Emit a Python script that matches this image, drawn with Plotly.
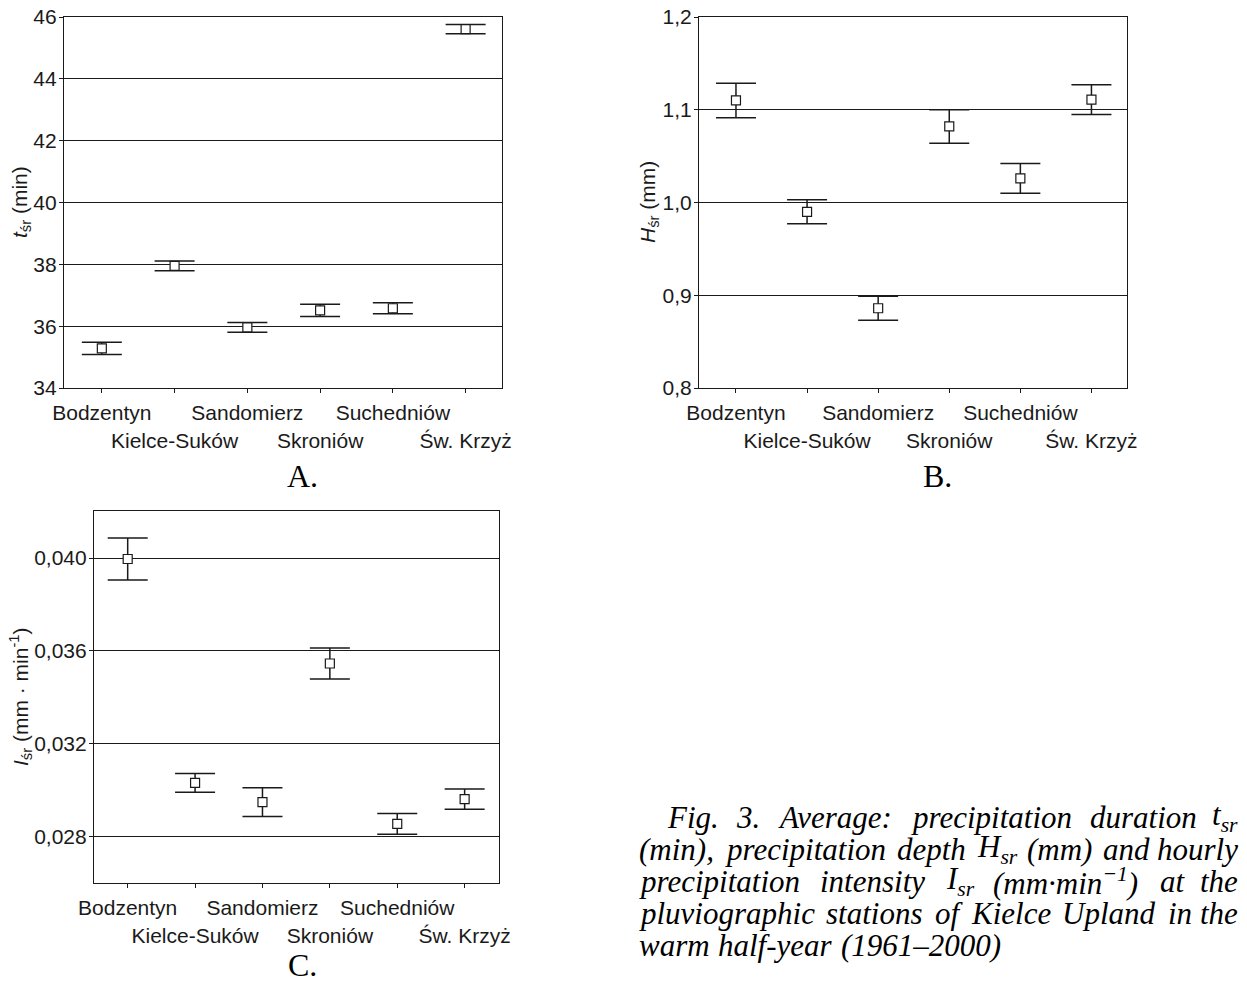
import re
import plotly.graph_objects as go

# ---------------- data ----------------
stations = ["Bodzentyn", "Kielce-Suków", "Sandomierz", "Skroniów", "Suchedniów", "Św. Krzyż"]
t_mean = [35.28, 37.95, 35.96, 36.51, 36.58, 45.61]
t_err = [0.20, 0.16, 0.16, 0.20, 0.18, 0.15]
H_mean = [1.110, 0.990, 0.886, 1.082, 1.026, 1.111]
H_err = [0.0185, 0.013, 0.013, 0.018, 0.016, 0.016]
I_mean = [0.03996, 0.0303, 0.02947, 0.03545, 0.02853, 0.0296]
I_err = [0.00091, 0.0004, 0.00062, 0.00067, 0.00045, 0.00044]

t_ticks = [34, 36, 38, 40, 42, 44, 46]
H_ticks = [0.8, 0.9, 1.0, 1.1, 1.2]
I_ticks = [0.028, 0.032, 0.036, 0.040]

W, Hh = 1247, 983
SANS = "Liberation Sans, Arial, sans-serif"
SERIF = "Liberation Serif, Times New Roman, serif"
INK = "#1a1a1a"
TF = 21

xpos = list(range(len(stations)))
ticktext = [s if i % 2 == 0 else "<br>" + s for i, s in enumerate(stations)]

fig = go.Figure()


def add_series(mean, err, xa, ya):
    fig.add_trace(go.Scatter(
        x=xpos, y=mean, mode="markers", xaxis=xa, yaxis=ya,
        marker=dict(symbol="square", size=9, color="white",
                    line=dict(color=INK, width=1.2)),
        error_y=dict(type="data", array=err, visible=True, color=INK,
                     thickness=1.5, width=20),
        showlegend=False, hoverinfo="skip"))


add_series(t_mean, t_err, "x", "y")
add_series(H_mean, H_err, "x2", "y2")
add_series(I_mean, I_err, "x3", "y3")


def px_x(v):
    return v / W


def px_y(v):
    return 1 - v / Hh


common_x = dict(tickmode="array", tickvals=xpos, ticktext=ticktext, tickangle=0,
                ticks="outside", ticklen=4, tickcolor=INK, showgrid=False,
                showline=True, linecolor=INK, linewidth=1.2, mirror=True,
                zeroline=False, ticklabelstandoff=2, automargin=False,
                tickfont=dict(family=SANS, size=TF, color=INK))
common_y = dict(ticks="outside", ticklen=4, tickcolor=INK, showgrid=True,
                gridcolor=INK, gridwidth=1.1, showline=True, linecolor=INK,
                linewidth=1.2, mirror=True, zeroline=False, automargin=False,
                ticklabelstandoff=-2,
                tickfont=dict(family=SANS, size=TF, color=INK))

fig.update_layout(
    width=W, height=Hh, margin=dict(l=0, r=0, t=0, b=0, autoexpand=False),
    paper_bgcolor="white", plot_bgcolor="white", separators=", ",
    xaxis=dict(domain=[px_x(64), px_x(502)], range=[-0.52, 5.5], anchor="y", **common_x),
    yaxis=dict(domain=[px_y(388), px_y(17)], range=[34, 46], tickvals=t_ticks,
               anchor="x", **common_y),
    xaxis2=dict(domain=[px_x(699), px_x(1127)], range=[-0.52, 5.5], anchor="y2", **common_x),
    yaxis2=dict(domain=[px_y(388), px_y(17)], range=[0.8, 1.2], tickvals=H_ticks,
                tickformat=".1f", anchor="x2", **common_y),
    xaxis3=dict(domain=[px_x(94), px_x(499)], range=[-0.5, 5.51], anchor="y3", **common_x),
    yaxis3=dict(domain=[px_y(883), px_y(511)], range=[0.02598, 0.04203], tickvals=I_ticks,
                tickformat=".3f", anchor="x3", **common_y),
)

ann = []
# axis titles
for txt, x, y in [("<i>t</i><sub>śr</sub> (min)", 21, 202),
                  ("<i>H</i><sub>śr</sub> (mm)", 649, 202),
                  ("<i>I</i><sub>śr</sub> (mm · min<sup>-1</sup>)", 20, 697)]:
    ann.append(dict(text=txt, x=px_x(x), y=px_y(y), xref="paper", yref="paper",
                    textangle=-90, showarrow=False, xanchor="center", yanchor="middle",
                    font=dict(family=SANS, size=TF, color=INK)))
# panel letters
for txt, x, y in [("A.", 302, 476), ("B.", 937, 476), ("C.", 302, 965)]:
    ann.append(dict(text=txt, x=px_x(x), y=px_y(y), xref="paper", yref="paper",
                    showarrow=False, xanchor="center", yanchor="middle",
                    font=dict(family=SERIF, size=32, color="black")))

# caption (justified, Times italic)
TI = {' ': 250, '(': 333, ')': 333, ',': 250, '-': 333, '.': 250, ':': 333, '·': 250,
      '–': 500, '−': 675,
      'A': 611, 'F': 611, 'H': 722, 'I': 333, 'K': 667, 'U': 722,
      'a': 500, 'b': 500, 'c': 444, 'd': 500, 'e': 444, 'f': 278, 'g': 500, 'h': 500,
      'i': 278, 'j': 278, 'k': 444, 'l': 278, 'm': 722, 'n': 500, 'o': 500, 'p': 500,
      'q': 500, 'r': 389, 's': 389, 't': 278, 'u': 500, 'v': 444, 'w': 667, 'x': 444,
      'y': 444, 'z': 389}


def text_width(html, size):
    total = 0.0
    for small, big in re.findall(r"<su[bp]>(.*?)</su[bp]>|([^<]+)", html):
        seg, scale = (small, 0.7) if small else (big, 1.0)
        for ch in seg:
            total += TI.get(ch, 500) * scale
    return total * size / 1000.0 * 1.01


CAP = 31
cap_lines = [
    ["Fig.", "3.", "Average:", "precipitation", "duration", "t<sub>sr</sub>"],
    ["(min),", "precipitation", "depth", "H<sub>sr</sub>", "(mm)", "and", "hourly"],
    ["precipitation", "intensity", "I<sub>sr</sub>", "(mm·min<sup>−1</sup>)", "at", "the"],
    ["pluviographic", "stations", "of", "Kielce", "Upland", "in", "the"],
    ["warm", "half-year", "(1961–2000)"],
]
cap_left = [665, 637, 637, 637, 637]
cap_right = 1240
cap_y = [817, 849, 881, 913, 945]
for li, words in enumerate(cap_lines):
    widths = [text_width(w_, CAP) for w_ in words]
    justify = li < len(cap_lines) - 1
    if justify:
        gap = (cap_right - cap_left[li] - sum(widths)) / (len(words) - 1)
    else:
        gap = text_width(" ", CAP)
    xcur = cap_left[li]
    for wi, (word, wd) in enumerate(zip(words, widths)):
        last = justify and wi == len(words) - 1
        ann.append(dict(text="<i>" + word + "</i>",
                        x=px_x(cap_right if last else xcur), y=px_y(cap_y[li]),
                        xref="paper", yref="paper", showarrow=False,
                        xanchor="right" if last else "left", yanchor="middle",
                        font=dict(family=SERIF, size=CAP, color="black")))
        xcur += wd + gap

fig.update_layout(annotations=ann)
fig.write_html("out.html")
